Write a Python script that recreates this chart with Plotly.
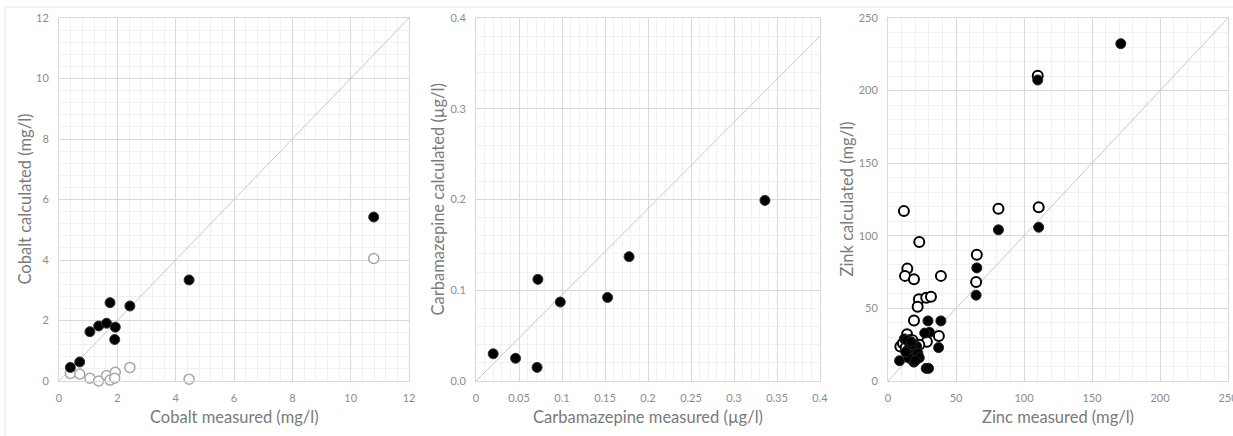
import plotly.graph_objects as go

# ---- Data ----
co_meas = [0.39, 0.71, 1.06, 1.36, 1.63, 1.75, 1.93, 1.91, 2.43, 4.46, 10.79]
co_calc_filled = [0.45, 0.63, 1.63, 1.82, 1.91, 2.59, 1.78, 1.37, 2.48, 3.34, 5.42]
co_calc_open = [0.25, 0.23, 0.09, 0.0, 0.18, 0.03, 0.29, 0.09, 0.45, 0.06, 4.05]

cbz_meas = [0.020, 0.046, 0.071, 0.072, 0.098, 0.153, 0.178, 0.336]
cbz_calc = [0.030, 0.025, 0.015, 0.112, 0.087, 0.092, 0.137, 0.199]

zn_meas_filled = [171.2, 110.1, 110.8, 81.2, 65.3, 64.8, 38.9, 29.4, 30.5, 27.0, 37.2,
                  28.1, 29.8, 8.5, 12.0, 14.0, 15.0, 16.0, 17.0, 18.0, 19.0, 20.0,
                  21.0, 22.0, 23.0, 15.0, 18.0, 20.0, 13.0, 17.0]
zn_calc_filled = [232.3, 207.3, 105.9, 104.1, 77.9, 59.1, 41.4, 41.4, 33.5, 33.0, 23.0,
                  8.7, 8.7, 14.0, 29.0, 28.0, 22.0, 18.0, 15.0, 20.0, 13.0, 17.0,
                  24.0, 19.0, 16.0, 16.0, 25.0, 14.0, 20.0, 27.0]
zn_meas_open = [110.1, 110.8, 81.2, 65.3, 64.8, 38.9, 11.7, 23.0, 14.2, 12.5, 19.1,
                22.7, 21.8, 28.1, 31.6, 19.1, 37.4, 28.6, 9.1, 11.0, 14.0, 16.4,
                18.0, 13.0, 23.0]
zn_calc_open = [210.2, 119.7, 118.6, 86.9, 68.2, 72.4, 117.0, 95.8, 77.4, 72.4, 70.1,
                56.3, 51.2, 57.4, 58.1, 41.6, 31.0, 27.1, 23.7, 26.0, 32.2, 28.3,
                28.0, 23.0, 25.0]

# 1:1 reference lines
co_line_x = [0, 12]
co_line_y = [0, 12]
cbz_line_x = [0, 0.4]
cbz_line_y = [0, 0.38]
zn_line_x = [0, 250]
zn_line_y = [0, 250]

W, H = 1233, 436
panels = [  # left, right, top, bottom in px
    (59, 409, 18, 381),
    (476, 820, 18, 381),
    (888, 1228, 18, 381),
]

FONT = "Lato, Calibri, Carlito, sans-serif"
TICK_COLOR = "#8c8c8c"
TITLE_COLOR = "#7a7a7a"
GRID = "#d9d9d9"
MINOR = "#f0f0f0"
LINE = "#c8c8c8"

fig = go.Figure()

# panel 1
fig.add_trace(go.Scatter(x=co_line_x, y=co_line_y, mode="lines", line=dict(color=LINE, width=1),
                         xaxis="x", yaxis="y", hoverinfo="skip"))
fig.add_trace(go.Scatter(x=co_meas, y=co_calc_open, mode="markers", cliponaxis=False,
                         marker=dict(size=10, color="white", line=dict(color="#a6a6a6", width=1.5)),
                         xaxis="x", yaxis="y"))
fig.add_trace(go.Scatter(x=co_meas, y=co_calc_filled, mode="markers", cliponaxis=False,
                         marker=dict(size=10, color="black", line=dict(color="#333333", width=1)),
                         xaxis="x", yaxis="y"))
# panel 2
fig.add_trace(go.Scatter(x=cbz_line_x, y=cbz_line_y, mode="lines", line=dict(color=LINE, width=1),
                         xaxis="x2", yaxis="y2", hoverinfo="skip"))
fig.add_trace(go.Scatter(x=cbz_meas, y=cbz_calc, mode="markers", cliponaxis=False,
                         marker=dict(size=10, color="black", line=dict(color="#333333", width=1)),
                         xaxis="x2", yaxis="y2"))
# panel 3
fig.add_trace(go.Scatter(x=zn_line_x, y=zn_line_y, mode="lines", line=dict(color=LINE, width=1),
                         xaxis="x3", yaxis="y3", hoverinfo="skip"))
fig.add_trace(go.Scatter(x=zn_meas_open, y=zn_calc_open, mode="markers", cliponaxis=False,
                         marker=dict(size=10, color="white", line=dict(color="black", width=2)),
                         xaxis="x3", yaxis="y3"))
fig.add_trace(go.Scatter(x=zn_meas_filled, y=zn_calc_filled, mode="markers", cliponaxis=False,
                         marker=dict(size=10, color="black", line=dict(color="#222222", width=1)),
                         xaxis="x3", yaxis="y3"))

def axis(domain, rng, dtick, minor, anchor, fmt=None):
    d = dict(domain=domain, range=rng, dtick=dtick, tick0=0, anchor=anchor,
             showgrid=True, gridcolor=GRID, gridwidth=1,
             showline=True, linecolor=GRID, linewidth=1, mirror=True,
             zeroline=False, ticks="", ticklabelstandoff=7,
             tickfont=dict(family=FONT, size=11, color=TICK_COLOR),
             minor=dict(dtick=minor, tick0=0, showgrid=True, gridcolor=MINOR, gridwidth=1),
             fixedrange=True, automargin=False, ticklabeloverflow="allow")
    if fmt:
        d["tickformat"] = fmt
    return d

specs = [
    ((0, 12), 2, 0.4, (0, 12), 2, 0.4, None),
    ((0, 0.4), 0.05, 0.01, (0, 0.4), 0.1, 0.02, ".1f"),
    ((0, 250), 50, 10, (0, 250), 50, 10, None),
]
xtitles = ["Cobalt measured (mg/l)", "Carbamazepine measured (µg/l)", "Zinc measured (mg/l)"]
ytitles = ["Cobalt calculated (mg/l)", "Carbamazepine calculated (µg/l)", "Zink calculated (mg/l)"]
ytitle_x = [25, 438, 847]

layout = dict(width=W, height=H, margin=dict(l=0, r=0, t=0, b=0),
              paper_bgcolor="white", plot_bgcolor="white", showlegend=False)
annotations = []
for i, ((l, r, t, b), (xr, xd, xm, yr, yd, ym, yfmt)) in enumerate(zip(panels, specs)):
    s = "" if i == 0 else str(i + 1)
    xdom = [l / W, r / W]
    ydom = [(H - b) / H, (H - t) / H]
    layout["xaxis" + s] = axis(xdom, list(xr), xd, xm, "y" + s)
    layout["yaxis" + s] = axis(ydom, list(yr), yd, ym, "x" + s, yfmt)
    annotations.append(dict(text=xtitles[i], x=(l + r) / 2 / W, y=(H - 417) / H,
                            xref="paper", yref="paper", xanchor="center", yanchor="middle",
                            showarrow=False, font=dict(family=FONT, size=16.5, color=TITLE_COLOR)))
    annotations.append(dict(text=ytitles[i], x=ytitle_x[i] / W, y=(H - (t + b) / 2) / H,
                            xref="paper", yref="paper", xanchor="center", yanchor="middle",
                            textangle=-90, showarrow=False,
                            font=dict(family=FONT, size=16.5, color=TITLE_COLOR)))
layout["annotations"] = annotations
layout["shapes"] = [
    dict(type="line", xref="paper", yref="paper", x0=5 / W, x1=1, y0=(H - 7) / H, y1=(H - 7) / H,
         line=dict(color="#e6e6e6", width=1)),
    dict(type="line", xref="paper", yref="paper", x0=5 / W, x1=5 / W, y0=0, y1=(H - 7) / H,
         line=dict(color="#e6e6e6", width=1)),
]
fig.update_layout(**layout)
fig.write_html(
    "out.html",
    config={"displayModeBar": False},
    post_script="document.body.style.margin='0';document.documentElement.style.overflow='hidden';document.body.style.overflow='hidden';",
)
